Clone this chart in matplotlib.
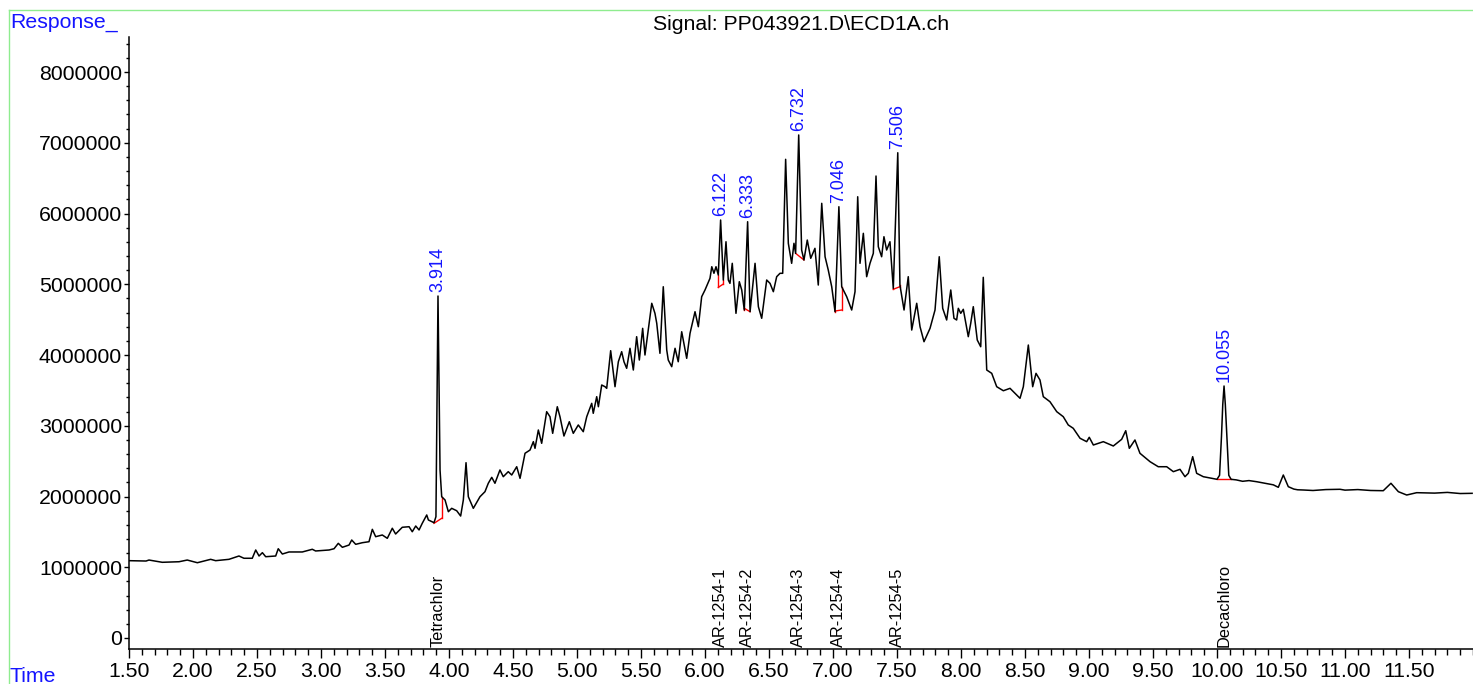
import numpy as np
import matplotlib.pyplot as plt
from matplotlib.ticker import MultipleLocator, FuncFormatter
from matplotlib.lines import Line2D
import matplotlib.transforms as mtransforms

plt.rcParams['font.family'] = ['Liberation Sans', 'DejaVu Sans']

# chromatogram trace (time in min, response in millions)
time_min = [
    1.500, 1.633, 1.656, 1.760, 1.891, 1.955, 2.034, 2.138, 2.177, 2.281,
    2.359, 2.398, 2.463, 2.490, 2.516, 2.542, 2.568, 2.646, 2.666, 2.698,
    2.750, 2.854, 2.932, 2.958, 3.063, 3.102, 3.135, 3.167, 3.219, 3.240,
    3.271, 3.323, 3.375, 3.401, 3.427, 3.479, 3.518, 3.557, 3.583, 3.635,
    3.688, 3.713, 3.740, 3.766, 3.791, 3.826, 3.839, 3.883, 3.898, 3.914,
    3.930, 3.943, 3.969, 3.995, 4.021, 4.060, 4.091, 4.112, 4.133, 4.151,
    4.190, 4.242, 4.281, 4.307, 4.334, 4.359, 4.398, 4.424, 4.463, 4.490,
    4.529, 4.555, 4.594, 4.633, 4.659, 4.672, 4.698, 4.724, 4.763, 4.789,
    4.810, 4.846, 4.867, 4.898, 4.940, 4.971, 5.010, 5.049, 5.076, 5.115,
    5.127, 5.154, 5.167, 5.193, 5.219, 5.232, 5.263, 5.284, 5.297, 5.323,
    5.349, 5.367, 5.388, 5.414, 5.440, 5.466, 5.487, 5.513, 5.531, 5.557,
    5.584, 5.609, 5.623, 5.648, 5.674, 5.701, 5.713, 5.740, 5.766, 5.791,
    5.818, 5.857, 5.883, 5.922, 5.948, 5.974, 6.000, 6.039, 6.053, 6.070,
    6.086, 6.104, 6.122, 6.143, 6.164, 6.182, 6.195, 6.213, 6.242, 6.268,
    6.287, 6.307, 6.333, 6.352, 6.391, 6.417, 6.443, 6.482, 6.508, 6.534,
    6.560, 6.586, 6.607, 6.630, 6.651, 6.677, 6.695, 6.708, 6.732, 6.755,
    6.773, 6.799, 6.826, 6.859, 6.885, 6.912, 6.938, 6.963, 6.990, 7.016,
    7.046, 7.068, 7.107, 7.146, 7.172, 7.193, 7.211, 7.237, 7.263, 7.289,
    7.315, 7.336, 7.354, 7.380, 7.398, 7.419, 7.445, 7.471, 7.506, 7.523,
    7.555, 7.588, 7.615, 7.654, 7.680, 7.711, 7.758, 7.797, 7.830, 7.857,
    7.888, 7.920, 7.945, 7.966, 7.979, 7.998, 8.018, 8.057, 8.076, 8.096,
    8.127, 8.154, 8.174, 8.201, 8.240, 8.279, 8.331, 8.383, 8.461, 8.487,
    8.526, 8.560, 8.586, 8.617, 8.643, 8.695, 8.748, 8.799, 8.838, 8.877,
    8.930, 8.982, 9.002, 9.034, 9.112, 9.190, 9.255, 9.287, 9.315, 9.359,
    9.398, 9.477, 9.541, 9.607, 9.659, 9.711, 9.750, 9.776, 9.810, 9.841,
    9.893, 10.000, 10.020, 10.035, 10.045, 10.055, 10.065, 10.077, 10.092, 10.110,
    10.150, 10.200, 10.250, 10.310, 10.380, 10.440, 10.479, 10.518, 10.557, 10.600,
    10.630, 10.674, 10.750, 10.850, 10.961, 11.000, 11.100, 11.200, 11.299, 11.359,
    11.417, 11.482, 11.560, 11.700, 11.800, 11.900, 11.993,
]
response_m = [
    1.093, 1.088, 1.102, 1.070, 1.078, 1.102, 1.064, 1.112, 1.093, 1.112,
    1.159, 1.127, 1.127, 1.244, 1.159, 1.206, 1.149, 1.159, 1.262, 1.187,
    1.216, 1.216, 1.254, 1.230, 1.244, 1.262, 1.338, 1.282, 1.314, 1.385,
    1.324, 1.347, 1.361, 1.536, 1.432, 1.456, 1.409, 1.551, 1.470, 1.565,
    1.573, 1.502, 1.583, 1.527, 1.621, 1.739, 1.668, 1.630, 1.715, 4.834,
    2.375, 1.997, 1.951, 1.785, 1.833, 1.799, 1.724, 1.951, 2.478, 1.997,
    1.833, 1.997, 2.068, 2.187, 2.271, 2.187, 2.375, 2.280, 2.351, 2.304,
    2.421, 2.257, 2.611, 2.657, 2.775, 2.681, 2.940, 2.752, 3.199, 3.128,
    2.893, 3.269, 3.128, 2.855, 3.057, 2.893, 3.011, 2.916, 3.128, 3.317,
    3.176, 3.411, 3.269, 3.576, 3.552, 3.529, 4.061, 3.741, 3.552, 3.905,
    4.047, 3.905, 3.812, 4.095, 3.788, 4.259, 3.929, 4.377, 4.000, 4.353,
    4.731, 4.589, 4.448, 4.024, 4.965, 4.071, 3.929, 3.835, 4.095, 3.905,
    4.329, 3.953, 4.307, 4.612, 4.400, 4.824, 4.919, 5.084, 5.248, 5.155,
    5.248, 5.131, 5.908, 5.060, 5.601, 5.060, 5.013, 5.296, 4.589, 5.036,
    4.919, 4.636, 5.884, 4.612, 5.296, 4.683, 4.519, 5.060, 5.013, 4.895,
    5.107, 5.155, 5.155, 6.766, 5.579, 5.296, 5.579, 5.437, 7.110, 5.484,
    5.343, 5.625, 5.367, 5.508, 4.989, 6.144, 5.389, 5.201, 4.965, 4.612,
    6.096, 4.965, 4.824, 4.636, 4.895, 6.237, 5.296, 5.720, 5.107, 5.296,
    5.437, 6.530, 5.531, 5.389, 5.672, 5.484, 5.601, 4.943, 6.859, 4.989,
    4.636, 5.107, 4.353, 4.731, 4.400, 4.188, 4.377, 4.636, 5.389, 4.660,
    4.495, 4.919, 4.519, 4.495, 4.660, 4.589, 4.646, 4.259, 4.448, 4.683,
    4.212, 4.117, 5.098, 3.788, 3.741, 3.552, 3.495, 3.529, 3.388, 3.552,
    4.141, 3.552, 3.741, 3.647, 3.411, 3.340, 3.199, 3.128, 3.011, 2.964,
    2.823, 2.775, 2.837, 2.728, 2.775, 2.714, 2.808, 2.930, 2.681, 2.799,
    2.611, 2.492, 2.421, 2.421, 2.351, 2.384, 2.280, 2.328, 2.563, 2.328,
    2.280, 2.243, 2.300, 2.850, 3.300, 3.562, 3.300, 2.850, 2.300, 2.243,
    2.235, 2.215, 2.225, 2.209, 2.185, 2.165, 2.130, 2.304, 2.139, 2.105,
    2.095, 2.092, 2.085, 2.098, 2.102, 2.090, 2.098, 2.085, 2.082, 2.187,
    2.068, 2.021, 2.054, 2.048, 2.058, 2.042, 2.045,
]

# labelled peaks and the compounds they belong to
peak_rt = [3.914, 6.122, 6.333, 6.732, 7.046, 7.506, 10.055]
peak_text = ['3.914', '6.122', '6.333', '6.732', '7.046', '7.506', '10.055']
compound_names = ['Tetrachlor', 'AR-1254-1', 'AR-1254-2', 'AR-1254-3',
                  'AR-1254-4', 'AR-1254-5', 'Decachloro']

# integration baselines (start / end, response in millions)
base_t0 = [3.883, 6.104, 6.307, 6.708, 7.016, 7.471, 10.000]
base_r0 = [1.621, 4.957, 4.660, 5.437, 4.622, 4.929, 2.243]
base_t1 = [3.943, 6.143, 6.352, 6.773, 7.068, 7.523, 10.110]
base_r1 = [1.692, 5.003, 4.612, 5.343, 4.636, 4.966, 2.243]

t = np.array(time_min)
y = np.array(response_m) * 1e6

W, H = 1473, 684
fig = plt.figure(figsize=(W / 100, H / 100), dpi=100)
ax = fig.add_axes([129 / W, 35 / H, 1344 / W, 612 / H])

# red baselines + drop lines
for t0, r0, t1, r1 in zip(base_t0, base_r0, base_t1, base_r1):
    ax.plot([t0, t1], [r0 * 1e6, r1 * 1e6], color='red', lw=1.0, zorder=2)
    for tt, rr in ((t0, r0), (t1, r1)):
        ax.plot([tt, tt], [rr * 1e6, np.interp(tt, t, y)], color='red', lw=1.0, zorder=2)

ax.plot(t, y, color='black', lw=1.1, zorder=3)

for rt, lab in zip(peak_rt, peak_text):
    ax.annotate(lab, (rt, np.interp(rt, t, y)), xytext=(0, 3), textcoords='offset points',
                rotation=90, ha='center', va='bottom', color='#1414ff', fontsize=13)

trans = mtransforms.blended_transform_factory(ax.transData, ax.transAxes)
for rt, name in zip(peak_rt, compound_names):
    ax.text(rt, 0.004, name, transform=trans, rotation=90, ha='center', va='bottom',
            color='black', fontsize=11.8)

ax.set_xlim(1.5, 12.0)
ax.set_ylim(-0.1555e6, 8.495e6)
ax.set_xticks(np.arange(1.5, 11.6, 0.5))
ax.xaxis.set_minor_locator(MultipleLocator(0.1))
ax.xaxis.set_major_formatter(FuncFormatter(lambda v, p: f'{v:.2f}'))
ax.yaxis.set_major_locator(MultipleLocator(1e6))
ax.yaxis.set_minor_locator(MultipleLocator(2e5))
ax.yaxis.set_major_formatter(FuncFormatter(lambda v, p: f'{v:.0f}'))

ax.tick_params(axis='x', which='major', length=6.5, width=1, labelsize=15.3, pad=3)
ax.tick_params(axis='x', which='minor', length=4.3, width=1)
ax.tick_params(axis='y', which='major', length=3.5, width=1, labelsize=15.3, pad=1.5)
ax.tick_params(axis='y', which='minor', length=2, width=1)

for s in ('top', 'right'):
    ax.spines[s].set_visible(False)
for s in ('left', 'bottom'):
    ax.spines[s].set_linewidth(1.1)

fig.text(801 / W, 1 - 25 / H, 'Signal: PP043921.D\\ECD1A.ch', ha='center', va='center', fontsize=15.3)
fig.text(10 / W, 1 - 22 / H, 'Response_', ha='left', va='center', color='#1414ff', fontsize=15.3)
fig.text(10 / W, 1 - 677 / H, 'Time', ha='left', va='center', color='#1414ff', fontsize=15.3)

# green frame
gx, gy = 9 / W, 1 - 9.5 / H
fig.add_artist(Line2D([gx, gx], [0, gy], color='#8fec8f', lw=1, transform=fig.transFigure))
fig.add_artist(Line2D([gx, 1], [gy, gy], color='#8fec8f', lw=1, transform=fig.transFigure))

fig.savefig('out.png', dpi=100)
